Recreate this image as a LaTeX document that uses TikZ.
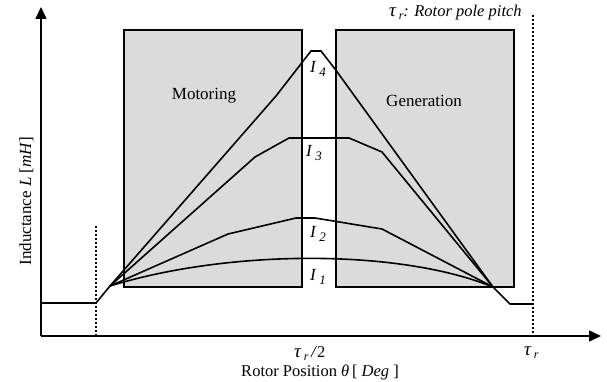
\documentclass[tikz,border=0pt]{standalone}
\usepackage{fontspec}
\setmainfont{Liberation Serif}
\usepackage{tikz}
\usetikzlibrary{arrows.meta,positioning}

\newcommand{\curlab}[1]{\textit{I}\,\raisebox{-4pt}{\fontsize{13}{13}\selectfont\itshape #1}}
\newcommand{\taur}{{\fontsize{19}{19}\selectfont\itshape τ}\,\raisebox{-3pt}{\fontsize{12}{12}\selectfont\itshape r}}

\begin{document}
\begin{tikzpicture}[
  x=1pt, y=-1pt,
  font=\fontsize{17}{19}\selectfont,
  >={Triangle[length=12pt,width=11pt]},
  axis/.style={line width=1.6pt, ->},
  region/.style={draw=black, line width=1.4pt, fill=black!14},
  curve/.style={line width=1.6pt, line join=round},
  guide/.style={line width=1.6pt, dash pattern=on 2pt off 2pt},
  lbl/.style={anchor=base west, inner sep=0pt},
  axlbl/.style={anchor=base, inner sep=0pt, font=\fontsize{16.5}{18}\selectfont},
]
\useasboundingbox (0,0) rectangle (607,382);
% regions
\draw[region] (124,30) rectangle (302,287);
\draw[region] (336,30) rectangle (514,287);
\node[anchor=base, inner sep=0pt] (mot) at (204,100) {Motoring};
\node[anchor=base, inner sep=0pt] (gen) at (424,107) {Generation};
% axes
\coordinate (o) at (41,336);
\coordinate (ytip) at (41,7);
\coordinate (xtip) at (601,336);
\draw[axis] (o) -- (ytip);
\draw[axis] (o) -- (xtip);
% guides
\coordinate (g1) at (96,226);
\coordinate (g1b) at (96,336);
\coordinate (g2) at (533,15);
\coordinate (g2b) at (533,336);
\draw[guide] (g1) -- (g1b);
\draw[guide] (g2) -- (g2b);
% inductance profiles
\coordinate (cl) at (110,286);
\coordinate (cr) at (493,287);
\draw[curve] (41,303) -- (96,303) -- (cl);
\draw[curve] (cr) -- (510,304) -- (533,304);
\draw[curve] (cl) -- (276,96) -- (311,51) -- (321,51) -- (335,69) -- (cr);
\draw[curve] (cl) -- (255,157) -- (289,138) -- (349,138) -- (382,152) -- (cr);
\draw[curve] (cl) -- (228,234) -- (296,218) -- (315,218) -- (382,229) -- (cr);
\draw[curve] (cl) .. controls (230,249) and (400,249) .. (cr);
% current labels
\node[lbl] (i4) at (310,73) {\curlab{4}};
\node[lbl] (i3) at (306,157) {\curlab{3}};
\node[lbl] (i2) at (310,237) {\curlab{2}};
\node[lbl] (i1) at (310,280) {\curlab{1}};
% axis labels
\node[anchor=base west, inner sep=0pt, font=\fontsize{16.5}{18}\selectfont\itshape] (pitch) at (389,17) {\taur: Rotor pole pitch};
\node[anchor=base west, inner sep=0pt, font=\fontsize{16.5}{18}\selectfont] (half) at (294,357) {\taur\,\textit{/}2};
\node[anchor=base west, inner sep=0pt, font=\fontsize{16.5}{18}\selectfont] (tau) at (524,355) {\taur};
\node[axlbl] (xlbl) at (320,376) {Rotor Position \textit{θ}\,[ \textit{Deg} ]};
\node[rotate=90, anchor=base, inner sep=0pt, font=\fontsize{17}{19}\selectfont] (ylbl) at (31,201) {Inductance \textit{L} [\textit{mH}]};
\end{tikzpicture}
\end{document}
